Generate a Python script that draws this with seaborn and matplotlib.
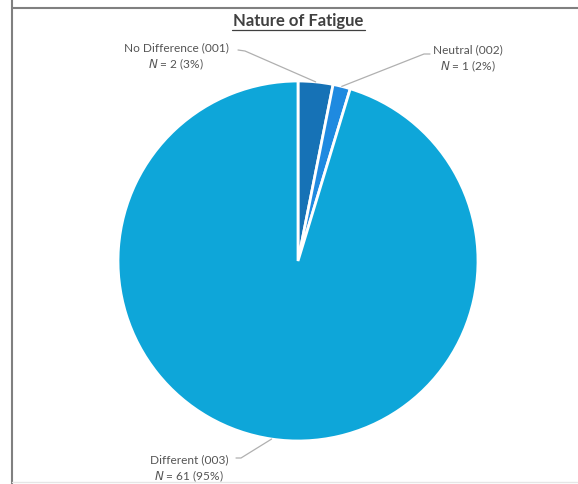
import numpy as np
import matplotlib
matplotlib.use("Agg")
import matplotlib.pyplot as plt
import seaborn as sns

categories = ["No Difference (001)", "Neutral (002)", "Different (003)"]
counts = [2, 1, 61]
pct_labels = ["3%", "2%", "95%"]
colors = ["#1672B6", "#1F8AE0", "#0EA6D9"]
title = "Nature of Fatigue"

sns.set_theme(style="white")
plt.rcParams["font.family"] = ["Lato", "DejaVu Sans"]

W, H = 578, 485
fig = plt.figure(figsize=(W / 100, H / 100), dpi=100)
ax = fig.add_axes([0, 0, 1, 1])
ax.set_xlim(0, W)
ax.set_ylim(0, H)
ax.set_aspect("equal")
ax.axis("off")

cx, cy, R = 298, H - 262, 180
wedges, _ = ax.pie(counts, colors=colors, startangle=90, counterclock=False,
                   center=(cx, cy), radius=R,
                   wedgeprops=dict(edgecolor="white", linewidth=2))
ax.set_xlim(0, W)
ax.set_ylim(0, H)

# frame
ax.plot([12, 12], [H, H - 9], color="#808080", lw=1.5, solid_capstyle="butt")
ax.plot([12, W], [H - 9, H - 9], color="#808080", lw=1.5, solid_capstyle="butt")
ax.plot([12, 12], [H - 9, 0], color="#808080", lw=1.5)
ax.plot([12, W], [2, 2], color="#e6e6e6", lw=1)

# title
ax.text(cx, H - 21, title, ha="center", va="center", fontsize=12,
        fontweight="bold", color="#404040")
ax.plot([232, 365], [H - 31, H - 31], color="#404040", lw=0.9)

label_pos = [(176, H - 48), (468, H - 50), (189, H - 460)]
line_ends = [(238, H - 51), (430, H - 55), (236, H - 459)]
elbows = [(245, H - 52), (424, H - 55), (241, H - 459)]
txtc = "#555555"
for w, name, n, p, (tx, ty), (ex, ey), (bx, by) in zip(
        wedges, categories, counts, pct_labels, label_pos, line_ends, elbows):
    ang = np.deg2rad((w.theta1 + w.theta2) / 2)
    px, py = cx + R * np.cos(ang), cy + R * np.sin(ang)
    ax.plot([ex, bx, px], [ey, by, py], color="#b0b0b0", lw=0.9)
    ax.text(tx, ty, name, ha="center", va="center", fontsize=8.6, color=txtc)
    ax.text(tx, ty - 16, f"$\\mathit{{N}}$ = {n} ({p})", ha="center", va="center",
            fontsize=8.6, color=txtc)

fig.savefig("out.png", dpi=100, facecolor="white")
